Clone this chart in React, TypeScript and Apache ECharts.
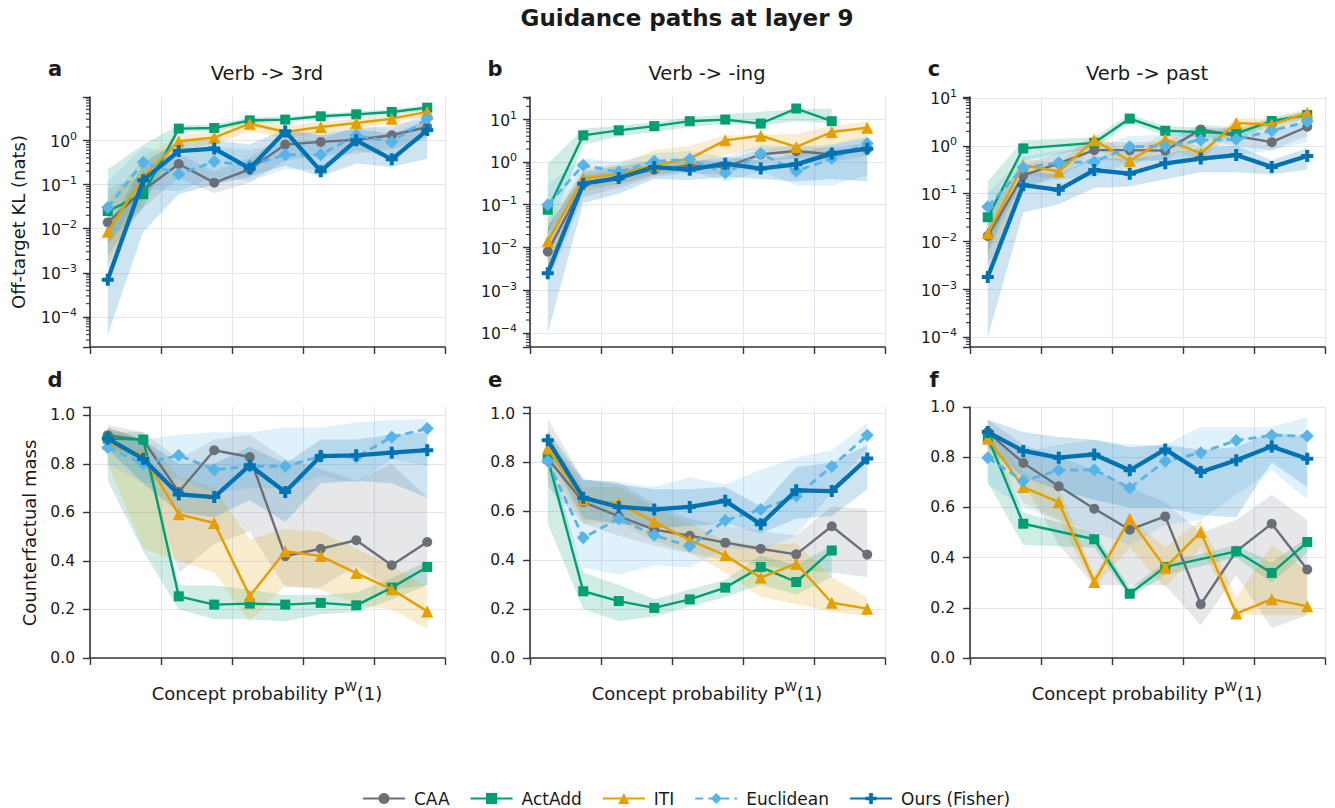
import React, { useEffect, useRef } from 'react';
import * as echarts from 'echarts';

// ---------------- data ----------------
const BIN_CENTERS = [0.05, 0.15, 0.25, 0.35, 0.45, 0.55, 0.65, 0.75, 0.85, 0.95];
const METHODS = ['CAA', 'ActAdd', 'ITI', 'Euclidean', 'Ours (Fisher)'];
const CONCEPTS = ['Verb -> 3rd', 'Verb -> -ing', 'Verb -> past'];
const PANEL_LETTERS = ['a', 'b', 'c', 'd', 'e', 'f'];
const SUPTITLE = 'Guidance paths at layer 9';
const KL_LABEL = 'Off-target KL (nats)';
const MASS_LABEL = 'Counterfactual mass';

// (a) Off-target KL, Verb -> 3rd
const KL_3RD_CAA = [0.0138, 0.074, 0.29, 0.11, 0.22, 0.8, 0.92, 1.03, 1.3, 2.0];
const KL_3RD_CAA_LO = [0.0025, 0.03, 0.14, 0.063, 0.11, 0.35, 0.45, 0.5, 0.63, 1.1];
const KL_3RD_CAA_HI = [0.08, 0.16, 0.5, 0.2, 0.4, 1.4, 1.6, 1.8, 2.2, 3.2];
const KL_3RD_ACTADD = [0.025, 0.06, 1.84, 1.9, 2.83, 2.94, 3.49, 3.87, 4.38, 5.48];
const KL_3RD_ACTADD_LO = [0.005, 0.03, 1.5, 1.6, 2.4, 2.5, 3.0, 3.3, 3.8, 4.8];
const KL_3RD_ACTADD_HI = [0.22, 0.8, 2.2, 2.3, 3.3, 3.4, 4.0, 4.5, 5.0, 6.3];
const KL_3RD_ITI = [0.0085, 0.15, 0.95, 1.15, 2.38, 1.54, 2.0, 2.47, 3.09, 4.4];
const KL_3RD_ITI_LO = [0.0015, 0.05, 0.6, 0.8, 1.6, 1.1, 1.5, 1.9, 2.5, 3.6];
const KL_3RD_ITI_HI = [0.04, 0.4, 1.3, 1.6, 3.2, 2.1, 2.6, 3.1, 3.8, 5.3];
const KL_3RD_EUCLID = [0.03, 0.32, 0.17, 0.33, 0.27, 0.47, 0.47, 1.3, 0.92, 3.1];
const KL_3RD_EUCLID_LO = [0.004, 0.08, 0.07, 0.15, 0.12, 0.22, 0.22, 0.6, 0.4, 1.3];
const KL_3RD_EUCLID_HI = [0.12, 0.7, 0.45, 0.7, 0.6, 0.9, 1.0, 2.2, 1.8, 4.5];
const KL_3RD_OURS = [0.0007, 0.125, 0.57, 0.65, 0.23, 1.6, 0.2, 1.0, 0.37, 1.7];
const KL_3RD_OURS_LO = [4e-5, 0.0085, 0.06, 0.1, 0.15, 0.27, 0.15, 0.3, 0.25, 0.38];
const KL_3RD_OURS_HI = [0.01, 0.3, 1.0, 1.0, 0.8, 1.8, 1.3, 1.8, 1.4, 2.8];

// (b) Off-target KL, Verb -> -ing
const KL_ING_CAA = [0.008, 0.31, 0.44, 0.66, 0.83, 0.76, 1.5, 1.8, 1.5, 2.05];
const KL_ING_CAA_LO = [0.0015, 0.15, 0.25, 0.45, 0.55, 0.5, 1.0, 1.2, 1.0, 1.4];
const KL_ING_CAA_HI = [0.03, 0.5, 0.65, 0.9, 1.1, 1.05, 2.0, 2.4, 2.1, 2.8];
const KL_ING_ACTADD = [0.076, 4.2, 5.5, 6.9, 9.0, 9.8, 7.9, 17.8, 9.0, null];
const KL_ING_ACTADD_LO = [0.02, 2.5, 4.0, 5.0, 6.5, 8.0, 7.0, 9.0, 8.0, null];
const KL_ING_ACTADD_HI = [0.9, 6.0, 7.0, 8.5, 11, 13, 15, 17, 17.5, null];
const KL_ING_ITI = [0.014, 0.41, 0.53, 0.83, 1.2, 3.2, 4.1, 2.25, 5.0, 6.3];
const KL_ING_ITI_LO = [0.003, 0.2, 0.3, 0.5, 0.7, 1.5, 2.0, 1.2, 2.5, 3.5];
const KL_ING_ITI_HI = [0.04, 0.7, 0.9, 1.9, 2.4, 4.2, 4.3, 4.5, 7.0, 8.7];
const KL_ING_EUCLID = [0.1, 0.84, 0.58, 1.04, 1.15, 0.55, 1.57, 0.61, 1.2, 2.7];
const KL_ING_EUCLID_LO = [0.02, 0.25, 0.3, 0.5, 0.6, 0.35, 0.6, 0.28, 0.28, 0.5];
const KL_ING_EUCLID_HI = [0.3, 1.2, 1.0, 1.6, 1.8, 1.3, 2.5, 2.3, 2.6, 4.0];
const KL_ING_OURS = [0.0025, 0.31, 0.42, 0.76, 0.66, 0.91, 0.7, 0.88, 1.57, 2.05];
const KL_ING_OURS_LO = [0.0001, 0.11, 0.18, 0.4, 0.38, 0.45, 0.4, 0.35, 0.4, 0.35];
const KL_ING_OURS_HI = [0.03, 0.6, 0.8, 1.1, 1.0, 1.3, 1.1, 1.5, 2.5, 3.6];

// (c) Off-target KL, Verb -> past
const KL_PAST_CAA = [0.013, 0.24, 0.43, 0.81, 0.81, 0.79, 2.2, 1.6, 1.19, 2.5];
const KL_PAST_CAA_LO = [0.003, 0.12, 0.25, 0.5, 0.5, 0.5, 1.4, 1.0, 0.8, 1.6];
const KL_PAST_CAA_HI = [0.05, 0.4, 0.7, 1.2, 1.2, 1.2, 2.8, 2.4, 1.8, 3.6];
const KL_PAST_ACTADD = [0.032, 0.88, null, 1.15, 3.7, 2.06, 1.93, 1.8, 3.3, 4.4];
const KL_PAST_ACTADD_LO = [0.006, 0.5, null, 0.9, 3.0, 1.6, 1.5, 1.4, 2.7, 3.6];
const KL_PAST_ACTADD_HI = [0.18, 1.3, null, 1.5, 4.5, 2.6, 2.4, 2.3, 4.0, 5.4];
const KL_PAST_ITI = [0.0147, 0.39, 0.29, 1.31, 0.48, 1.36, 0.69, 3.0, 2.8, 4.9];
const KL_PAST_ITI_LO = [0.005, 0.25, 0.2, 0.9, 0.35, 0.9, 0.5, 2.2, 2.0, 3.8];
const KL_PAST_ITI_HI = [0.03, 0.55, 0.42, 1.8, 0.7, 1.9, 0.95, 3.8, 3.6, 6.0];
const KL_PAST_EUCLID = [0.053, 0.35, 0.44, 0.46, 0.95, 0.99, 1.31, 1.36, 2.06, 3.2];
const KL_PAST_EUCLID_LO = [0.01, 0.15, 0.2, 0.22, 0.45, 0.5, 0.6, 0.65, 0.8, 1.2];
const KL_PAST_EUCLID_HI = [0.1, 0.6, 0.8, 0.9, 1.6, 1.7, 2.2, 2.3, 3.0, 4.5];
const KL_PAST_OURS = [0.0018, 0.15, 0.12, 0.31, 0.26, 0.43, 0.54, 0.64, 0.36, 0.61];
const KL_PAST_OURS_LO = [0.0001, 0.04, 0.06, 0.13, 0.14, 0.2, 0.28, 0.28, 0.25, 0.32];
const KL_PAST_OURS_HI = [0.01, 0.3, 0.25, 0.6, 0.5, 0.7, 0.9, 1.0, 0.5, 0.9];

// (d) Counterfactual mass, Verb -> 3rd
const MASS_3RD_CAA = [0.918, 0.897, 0.684, 0.856, 0.828, 0.42, 0.45, 0.485, 0.382, 0.478];
const MASS_3RD_CAA_LO = [0.86, 0.82, 0.35, 0.47, 0.52, 0.29, 0.29, 0.38, 0.28, 0.3];
const MASS_3RD_CAA_HI = [0.96, 0.93, 0.82, 0.9, 0.92, 0.82, 0.78, 0.73, 0.8, 0.66];
const MASS_3RD_ACTADD = [0.904, 0.9, 0.254, 0.22, 0.224, 0.22, 0.227, 0.217, 0.29, 0.375];
const MASS_3RD_ACTADD_LO = [0.73, 0.44, 0.2, 0.16, 0.16, 0.15, 0.18, 0.19, 0.24, 0.3];
const MASS_3RD_ACTADD_HI = [0.93, 0.93, 0.3, 0.3, 0.28, 0.26, 0.26, 0.27, 0.33, 0.4];
const MASS_3RD_ITI = [0.883, 0.835, 0.592, 0.556, 0.255, 0.44, 0.42, 0.35, 0.283, 0.192];
const MASS_3RD_ITI_LO = [0.8, 0.45, 0.4, 0.35, 0.15, 0.3, 0.28, 0.22, 0.2, 0.12];
const MASS_3RD_ITI_HI = [0.95, 0.9, 0.75, 0.7, 0.49, 0.53, 0.52, 0.45, 0.38, 0.29];
const MASS_3RD_EUCLID = [0.867, 0.8, 0.835, 0.776, 0.79, 0.79, 0.831, 0.828, 0.91, 0.945];
const MASS_3RD_EUCLID_LO = [0.8, 0.72, 0.74, 0.68, 0.7, 0.7, 0.75, 0.72, 0.82, 0.79];
const MASS_3RD_EUCLID_HI = [0.92, 0.9, 0.92, 0.93, 0.93, 0.95, 0.95, 0.97, 0.98, 0.985];
const MASS_3RD_OURS = [0.904, 0.82, 0.674, 0.663, 0.794, 0.684, 0.832, 0.835, 0.846, 0.856];
const MASS_3RD_OURS_LO = [0.86, 0.72, 0.6, 0.58, 0.65, 0.56, 0.72, 0.73, 0.72, 0.66];
const MASS_3RD_OURS_HI = [0.95, 0.9, 0.8, 0.8, 0.87, 0.8, 0.9, 0.9, 0.92, 0.93];

// (e) Counterfactual mass, Verb -> -ing
const MASS_ING_CAA = [0.816, 0.638, 0.58, 0.525, 0.5, 0.472, 0.447, 0.424, 0.539, 0.423];
const MASS_ING_CAA_LO = [0.7, 0.55, 0.5, 0.46, 0.43, 0.4, 0.38, 0.36, 0.35, 0.33];
const MASS_ING_CAA_HI = [0.98, 0.73, 0.72, 0.63, 0.57, 0.54, 0.52, 0.5, 0.62, 0.61];
const MASS_ING_ACTADD = [0.816, 0.273, 0.233, 0.205, 0.24, 0.288, 0.372, 0.311, 0.44, null];
const MASS_ING_ACTADD_LO = [0.55, 0.2, 0.15, 0.17, 0.21, 0.25, 0.3, 0.26, 0.33, null];
const MASS_ING_ACTADD_HI = [0.85, 0.35, 0.3, 0.24, 0.28, 0.32, 0.42, 0.38, 0.46, null];
const MASS_ING_ITI = [0.857, 0.648, 0.632, 0.557, 0.482, 0.42, 0.329, 0.386, 0.226, 0.202];
const MASS_ING_ITI_LO = [0.8, 0.55, 0.55, 0.48, 0.43, 0.35, 0.25, 0.22, 0.19, 0.17];
const MASS_ING_ITI_HI = [0.92, 0.7, 0.7, 0.62, 0.55, 0.48, 0.46, 0.47, 0.33, 0.25];
const MASS_ING_EUCLID = [0.806, 0.492, 0.57, 0.502, 0.457, 0.563, 0.608, 0.662, 0.784, 0.911];
const MASS_ING_EUCLID_LO = [0.74, 0.37, 0.34, 0.38, 0.37, 0.45, 0.44, 0.5, 0.68, 0.86];
const MASS_ING_EUCLID_HI = [0.88, 0.73, 0.72, 0.7, 0.74, 0.71, 0.77, 0.82, 0.85, 0.96];
const MASS_ING_OURS = [0.891, 0.656, 0.618, 0.608, 0.618, 0.643, 0.547, 0.686, 0.683, 0.816];
const MASS_ING_OURS_LO = [0.84, 0.57, 0.55, 0.53, 0.54, 0.55, 0.51, 0.57, 0.58, 0.69];
const MASS_ING_OURS_HI = [0.93, 0.73, 0.71, 0.69, 0.69, 0.7, 0.62, 0.78, 0.8, 0.87];

// (f) Counterfactual mass, Verb -> past
const MASS_PAST_CAA = [0.9, 0.777, 0.684, 0.595, 0.511, 0.564, 0.214, 0.425, 0.535, 0.353];
const MASS_PAST_CAA_LO = [0.85, 0.7, 0.45, 0.29, 0.29, 0.29, 0.13, 0.33, 0.12, 0.17];
const MASS_PAST_CAA_HI = [0.95, 0.85, 0.8, 0.75, 0.68, 0.62, 0.5, 0.55, 0.65, 0.55];
const MASS_PAST_ACTADD = [0.88, 0.535, null, 0.473, 0.256, 0.363, null, 0.425, 0.339, 0.462];
const MASS_PAST_ACTADD_LO = [0.7, 0.45, null, 0.44, 0.24, 0.33, null, 0.4, 0.3, 0.42];
const MASS_PAST_ACTADD_HI = [0.92, 0.58, null, 0.5, 0.28, 0.38, null, 0.45, 0.38, 0.48];
const MASS_PAST_ITI = [0.874, 0.681, 0.621, 0.303, 0.555, 0.36, 0.502, 0.177, 0.234, 0.206];
const MASS_PAST_ITI_LO = [0.82, 0.62, 0.55, 0.28, 0.44, 0.28, 0.44, 0.17, 0.17, 0.17];
const MASS_PAST_ITI_HI = [0.92, 0.74, 0.68, 0.33, 0.56, 0.44, 0.55, 0.24, 0.45, 0.35];
const MASS_PAST_EUCLID = [0.798, 0.705, 0.748, 0.75, 0.677, 0.784, 0.818, 0.867, 0.887, 0.884];
const MASS_PAST_EUCLID_LO = [0.69, 0.6, 0.55, 0.5, 0.45, 0.53, 0.55, 0.65, 0.75, 0.63];
const MASS_PAST_EUCLID_HI = [0.88, 0.82, 0.85, 0.87, 0.85, 0.85, 0.92, 0.92, 0.92, 0.96];
const MASS_PAST_OURS = [0.9, 0.825, 0.798, 0.811, 0.748, 0.831, 0.741, 0.788, 0.843, 0.794];
const MASS_PAST_OURS_LO = [0.84, 0.72, 0.67, 0.63, 0.6, 0.6, 0.57, 0.56, 0.78, 0.68];
const MASS_PAST_OURS_HI = [0.95, 0.9, 0.88, 0.87, 0.84, 0.85, 0.83, 0.84, 0.9, 0.88];

// ---------------- styling ----------------
const FONT = "'DejaVu Sans', sans-serif";
const TEXT = '#1a1a1a';
const AXIS = '#2f3440';
const GRID = '#e3e6ee';
const PLUS = 'path://M4,0H8V4H12V8H8V12H4V8H0V4H4Z';

const METHOD_STYLES = [
  { color: '#6b6f78', symbol: 'circle', size: 10, width: 2.4, type: 'solid' as any },
  { color: '#009E73', symbol: 'rect', size: 10, width: 2.4, type: 'solid' as any },
  { color: '#E69F00', symbol: 'triangle', size: 12, width: 2.5, type: 'solid' as any },
  { color: '#56B4E9', symbol: 'diamond', size: 13, width: 2.8, type: [8, 5] as any },
  { color: '#0072B2', symbol: PLUS, size: 12, width: 4.3, type: 'solid' as any },
];

const PANELS = [
  { log: true, min: -4.68, max: 0.98, grid: { left: 90, top: 97, width: 355, height: 250 },
    mean: [KL_3RD_CAA, KL_3RD_ACTADD, KL_3RD_ITI, KL_3RD_EUCLID, KL_3RD_OURS],
    lo: [KL_3RD_CAA_LO, KL_3RD_ACTADD_LO, KL_3RD_ITI_LO, KL_3RD_EUCLID_LO, KL_3RD_OURS_LO],
    hi: [KL_3RD_CAA_HI, KL_3RD_ACTADD_HI, KL_3RD_ITI_HI, KL_3RD_EUCLID_HI, KL_3RD_OURS_HI] },
  { log: true, min: -4.33, max: 1.52, grid: { left: 530, top: 97, width: 355, height: 250 },
    mean: [KL_ING_CAA, KL_ING_ACTADD, KL_ING_ITI, KL_ING_EUCLID, KL_ING_OURS],
    lo: [KL_ING_CAA_LO, KL_ING_ACTADD_LO, KL_ING_ITI_LO, KL_ING_EUCLID_LO, KL_ING_OURS_LO],
    hi: [KL_ING_CAA_HI, KL_ING_ACTADD_HI, KL_ING_ITI_HI, KL_ING_EUCLID_HI, KL_ING_OURS_HI] },
  { log: true, min: -4.21, max: 1.02, grid: { left: 970, top: 97, width: 355, height: 250 },
    mean: [KL_PAST_CAA, KL_PAST_ACTADD, KL_PAST_ITI, KL_PAST_EUCLID, KL_PAST_OURS],
    lo: [KL_PAST_CAA_LO, KL_PAST_ACTADD_LO, KL_PAST_ITI_LO, KL_PAST_EUCLID_LO, KL_PAST_OURS_LO],
    hi: [KL_PAST_CAA_HI, KL_PAST_ACTADD_HI, KL_PAST_ITI_HI, KL_PAST_EUCLID_HI, KL_PAST_OURS_HI] },
  { log: false, min: 0, max: 1.034, grid: { left: 90, top: 407, width: 355, height: 251 },
    mean: [MASS_3RD_CAA, MASS_3RD_ACTADD, MASS_3RD_ITI, MASS_3RD_EUCLID, MASS_3RD_OURS],
    lo: [MASS_3RD_CAA_LO, MASS_3RD_ACTADD_LO, MASS_3RD_ITI_LO, MASS_3RD_EUCLID_LO, MASS_3RD_OURS_LO],
    hi: [MASS_3RD_CAA_HI, MASS_3RD_ACTADD_HI, MASS_3RD_ITI_HI, MASS_3RD_EUCLID_HI, MASS_3RD_OURS_HI] },
  { log: false, min: 0, max: 1.027, grid: { left: 530, top: 407, width: 355, height: 251 },
    mean: [MASS_ING_CAA, MASS_ING_ACTADD, MASS_ING_ITI, MASS_ING_EUCLID, MASS_ING_OURS],
    lo: [MASS_ING_CAA_LO, MASS_ING_ACTADD_LO, MASS_ING_ITI_LO, MASS_ING_EUCLID_LO, MASS_ING_OURS_LO],
    hi: [MASS_ING_CAA_HI, MASS_ING_ACTADD_HI, MASS_ING_ITI_HI, MASS_ING_EUCLID_HI, MASS_ING_OURS_HI] },
  { log: false, min: 0, max: 1.0, grid: { left: 970, top: 407, width: 355, height: 251 },
    mean: [MASS_PAST_CAA, MASS_PAST_ACTADD, MASS_PAST_ITI, MASS_PAST_EUCLID, MASS_PAST_OURS],
    lo: [MASS_PAST_CAA_LO, MASS_PAST_ACTADD_LO, MASS_PAST_ITI_LO, MASS_PAST_EUCLID_LO, MASS_PAST_OURS_LO],
    hi: [MASS_PAST_CAA_HI, MASS_PAST_ACTADD_HI, MASS_PAST_ITI_HI, MASS_PAST_EUCLID_HI, MASS_PAST_OURS_HI] },
];

const hexToRgba = (hex: string, a: number) => {
  const n = parseInt(hex.slice(1), 16);
  return `rgba(${(n >> 16) & 255},${(n >> 8) & 255},${n & 255},${a})`;
};

const makeBandRender = (fill: string) => (params: any, api: any) => {
  if (params.dataIndex !== 0) return null;
  const n = params.dataInsideLength;
  const top: number[][] = [];
  const bottom: number[][] = [];
  for (let k = 0; k < n; k++) {
    const x = api.value(0, k);
    const lo = api.value(1, k);
    const hi = api.value(2, k);
    if (!isFinite(lo) || !isFinite(hi)) continue;
    top.push(api.coord([x, hi]));
    bottom.push(api.coord([x, lo]));
  }
  return { type: 'polygon', silent: true, shape: { points: top.concat(bottom.reverse()) }, style: { fill } };
};

const minorTickRender = (params: any, api: any) => {
  const c = api.coord([api.value(0), api.value(1)]);
  return {
    type: 'line',
    silent: true,
    shape: { x1: c[0] - 4, y1: c[1], x2: c[0], y2: c[1] },
    style: { stroke: AXIS, lineWidth: 1.1 },
  };
};

const SUP_RICH = {
  b: { fontSize: 15.5, fontFamily: FONT, color: TEXT, lineHeight: 19, verticalAlign: 'bottom' },
  s: { fontSize: 11, fontFamily: FONT, color: TEXT, lineHeight: 11, verticalAlign: 'top' },
};

const logLabel = (v: number) => {
  const r = Math.round(v);
  if (Math.abs(v - r) > 1e-6) return '';
  return `{b|10}{s|${r < 0 ? '\u2212' + -r : r}}`;
};

const linLabel = (v: number) => {
  const r = Math.round(v * 5);
  if (Math.abs(v * 5 - r) > 1e-6) return '';
  return (r / 5).toFixed(1);
};

function buildOption() {
  const grids: any[] = [];
  const xAxes: any[] = [];
  const yAxes: any[] = [];
  const series: any[] = [];

  PANELS.forEach((p, i) => {
    grids.push({ ...p.grid, containLabel: false });
    xAxes.push({
      type: 'value', gridIndex: i, min: 0, max: 1, interval: 0.2,
      axisLine: { show: true, onZero: false, lineStyle: { color: AXIS, width: 1.6 } },
      axisTick: { show: true, length: 7, lineStyle: { color: AXIS, width: 1.4 } },
      axisLabel: { show: false },
      splitLine: { show: true, lineStyle: { color: GRID, width: 1.2 } },
    });
    const isMult = Math.abs(p.max * 5 - Math.round(p.max * 5)) < 1e-9;
    if (p.log) {
      yAxes.push({
        type: 'value', gridIndex: i, min: p.min, max: p.max, minInterval: 1, maxInterval: 1, splitNumber: 5,
        axisLine: { show: true, onZero: false, lineStyle: { color: AXIS, width: 1.6 } },
        axisTick: { show: true, length: 7, lineStyle: { color: AXIS, width: 1.4 } },
        axisLabel: { margin: 13, formatter: logLabel, rich: SUP_RICH, color: TEXT },
        splitLine: { show: true, showMinLine: false, showMaxLine: false, lineStyle: { color: GRID, width: 1.2 } },
      });
    } else {
      yAxes.push({
        type: 'value', gridIndex: i, min: p.min, max: p.max, interval: 0.2,
        axisLine: { show: true, onZero: false, lineStyle: { color: AXIS, width: 1.6 } },
        axisTick: { show: true, length: 7, lineStyle: { color: AXIS, width: 1.4 } },
        axisLabel: { margin: 15, formatter: linLabel, fontSize: 15.5, fontFamily: FONT, color: TEXT },
        splitLine: { show: true, showMinLine: false, showMaxLine: isMult, lineStyle: { color: GRID, width: 1.2 } },
      });
    }
    const tf = (v: number | null) => (v == null ? '-' : p.log ? Math.log10(v) : v);

    // confidence bands
    METHOD_STYLES.forEach((st, m) => {
      series.push({
        type: 'custom', name: `band-${i}-${m}`, xAxisIndex: i, yAxisIndex: i, silent: true, z: 1,
        clip: true,
        renderItem: makeBandRender(hexToRgba(st.color, m === 0 ? 0.17 : 0.19)),
        encode: { x: 0, y: [1, 2] },
        data: BIN_CENTERS.map((x, k) => [x, tf(p.lo[m][k]), tf(p.hi[m][k])]),
      });
    });
    // lines
    METHOD_STYLES.forEach((st, m) => {
      series.push({
        type: 'line', name: METHODS[m], xAxisIndex: i, yAxisIndex: i, z: 10 + m,
        data: BIN_CENTERS.map((x, k) => [x, tf(p.mean[m][k])]),
        symbol: st.symbol, symbolSize: st.size, showSymbol: true, connectNulls: true,
        lineStyle: { color: st.color, width: st.width, type: st.type },
        itemStyle: { color: st.color },
        emphasis: { disabled: true },
      });
    });
    // minor log ticks
    if (p.log) {
      const minor: number[][] = [];
      for (let n = -7; n <= 2; n++) {
        for (let k = 2; k <= 9; k++) {
          const v = n + Math.log10(k);
          if (v > p.min && v < p.max) minor.push([0, v]);
        }
      }
      series.push({
        type: 'custom', name: `minor-${i}`, xAxisIndex: i, yAxisIndex: i, silent: true, z: 20, clip: false,
        renderItem: minorTickRender, encode: { x: 0, y: 1 }, data: minor,
      });
    }
  });

  const graphic: any[] = [];
  graphic.push({
    type: 'text', x: 687, y: 18,
    style: { text: SUPTITLE, fontSize: 23, fontWeight: 'bold', fontFamily: FONT, fill: TEXT, align: 'center', verticalAlign: 'middle' },
  });
  PANEL_LETTERS.forEach((l, i) => {
    const col = i % 3;
    const row = Math.floor(i / 3);
    graphic.push({
      type: 'text', x: [55, 495, 934][col], y: row === 0 ? 69 : 380,
      style: { text: l, fontSize: 21, fontWeight: 'bold', fontFamily: FONT, fill: TEXT, align: 'center', verticalAlign: 'middle' },
    });
  });
  CONCEPTS.forEach((c, col) => {
    graphic.push({
      type: 'text', x: [267, 707, 1147][col], y: 73,
      style: { text: c, fontSize: 19.5, fontFamily: FONT, fill: TEXT, align: 'center', verticalAlign: 'middle' },
    });
    graphic.push({
      type: 'text', x: [267, 707, 1147][col], y: 691,
      style: {
        text: '{n|Concept probability P}{s|W}{n|(1)}',
        align: 'center', verticalAlign: 'middle', fill: TEXT,
        rich: {
          n: { fontSize: 18, fontFamily: FONT, fill: TEXT, lineHeight: 22, verticalAlign: 'bottom' },
          s: { fontSize: 12.5, fontFamily: FONT, fill: TEXT, lineHeight: 12, verticalAlign: 'top' },
        },
      },
    });
  });
  graphic.push({
    type: 'text', x: 18, y: 222, rotation: Math.PI / 2,
    style: { text: KL_LABEL, fontSize: 18, fontFamily: FONT, fill: TEXT, align: 'center', verticalAlign: 'middle' },
  });
  graphic.push({
    type: 'text', x: 29, y: 533, rotation: Math.PI / 2,
    style: { text: MASS_LABEL, fontSize: 18, fontFamily: FONT, fill: TEXT, align: 'center', verticalAlign: 'middle' },
  });

  return {
    animation: false,
    backgroundColor: '#ffffff',
    grid: grids,
    xAxis: xAxes,
    yAxis: yAxes,
    series,
    graphic,
    legend: {
      data: METHODS,
      left: 357, top: 785,
      itemWidth: 42, itemHeight: 14, itemGap: 20,
      textStyle: { fontSize: 17, fontFamily: FONT, color: TEXT, padding: [0, 0, 0, 4] },
      selectedMode: false,
    },
  };
}

export default function App() {
  const ref = useRef<HTMLDivElement>(null);
  useEffect(() => {
    const chart = echarts.init(ref.current as HTMLDivElement, null, { renderer: 'svg' });
    chart.setOption(buildOption() as any);
    return () => chart.dispose();
  }, []);
  return (
    <div
      ref={ref}
      style={{ position: 'fixed', left: 0, top: 0, width: 1335, height: 808, background: '#fff' }}
    />
  );
}
